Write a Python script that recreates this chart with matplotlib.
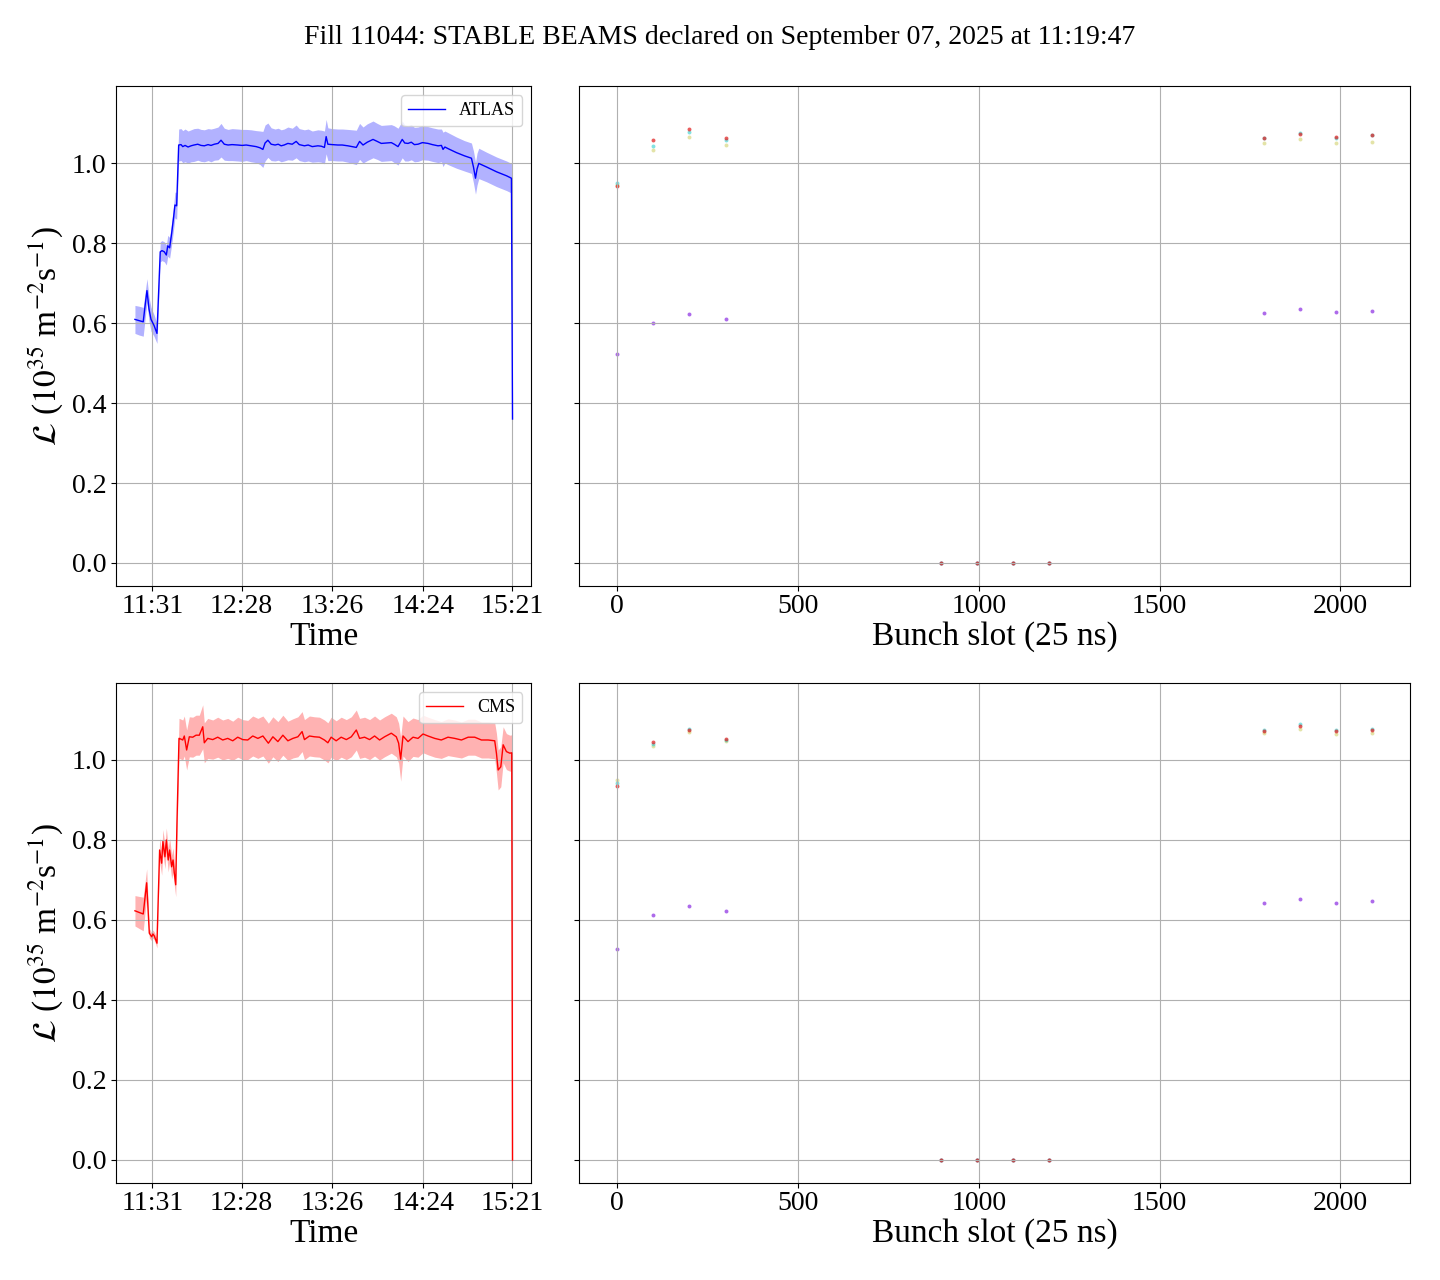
import numpy as np
import matplotlib
matplotlib.use('Agg')
import matplotlib.pyplot as plt

plt.rcParams['font.family'] = ['Liberation Serif', 'DejaVu Serif']
plt.rcParams['mathtext.fontset'] = 'stix'

title = 'Fill 11044: STABLE BEAMS declared on September 07, 2025 at 11:19:47'
sb_time = '11:19:47'

# time axis: minutes after stable beams were declared
tick_labels = ['11:31', '12:28', '13:26', '14:24', '15:21']

atlas_t = [0.0, 2.6, 5.3, 6.4, 7.7, 9.0, 10.3, 12.2, 14.1, 16.2, 17.3, 18.8, 20.1, 21.0, 22.2, 23.5, 24.8, 25.6, 26.7, 28.0,
           29.5, 30.6, 32.1, 34.0, 35.9, 37.8, 40.2, 42.3, 44.4, 46.8, 48.7, 50.8, 53.2, 55.1, 57.2, 59.6, 62.2, 65.8,
           68.6, 71.2, 74.4, 77.6, 80.1, 81.9, 83.3, 85.1, 87.2, 89.7, 91.7, 93.6, 95.5, 97.9, 100.7, 103.2, 105.2,
           108.5, 110.9, 113.5, 117.1, 119.3, 121.3, 122.4, 123.5, 126.3, 129.9, 132.7, 136.3, 139.0, 141.7, 143.8,
           146.0, 148.7, 152.4, 155.1, 157.7, 160.9, 164.1, 166.0, 168.4, 171.1, 172.7, 174.8, 176.9, 178.9, 181.2,
           184.0, 187.6, 190.4, 194.0, 196.2, 197.2, 198.4, 200.4, 205.8, 210.9, 215.4, 216.7, 218.0, 219.0, 220.1,
           225.1, 231.5, 237.9, 241.0, 241.7]
atlas_lumi = [0.609, 0.606, 0.603, 0.640, 0.681, 0.635, 0.609, 0.594, 0.574, 0.778, 0.781, 0.778, 0.770, 0.793, 0.788,
              0.824, 0.866, 0.895, 0.893, 1.045,
              1.046, 1.041, 1.044, 1.040, 1.043, 1.045, 1.047, 1.044, 1.043, 1.046, 1.044, 1.047, 1.049, 1.057, 1.047,
              1.045, 1.046, 1.045, 1.044, 1.045, 1.043, 1.041, 1.038, 1.034, 1.050, 1.057, 1.047, 1.045, 1.047, 1.043,
              1.045, 1.049, 1.047, 1.054, 1.046, 1.043, 1.045, 1.041, 1.043, 1.042, 1.039, 1.066, 1.047, 1.046, 1.045,
              1.045, 1.043, 1.041, 1.039, 1.054, 1.045, 1.052, 1.059, 1.054, 1.049, 1.050, 1.051, 1.047, 1.041, 1.059,
              1.050, 1.049, 1.052, 1.046, 1.047, 1.051, 1.049, 1.046, 1.043, 1.044, 1.034, 1.040, 1.036, 1.026, 1.018,
              1.012, 0.990, 0.962, 0.985, 0.999, 0.990, 0.978, 0.968, 0.962, 0.360]
atlas_err = [0.035, 0.036, 0.036, 0.033, 0.030, 0.030, 0.030, 0.027, 0.025, 0.025, 0.025, 0.025, 0.025, 0.026, 0.026,
             0.028, 0.030, 0.032, 0.034, 0.040,
             0.040, 0.040, 0.041, 0.040, 0.040, 0.041, 0.040, 0.040, 0.040, 0.040, 0.041, 0.040, 0.041, 0.042, 0.040,
             0.039, 0.040, 0.040, 0.040, 0.039, 0.040, 0.040, 0.042, 0.045, 0.045, 0.043, 0.041, 0.040, 0.040, 0.040,
             0.040, 0.041, 0.040, 0.041, 0.040, 0.040, 0.040, 0.039, 0.040, 0.040, 0.041, 0.043, 0.041, 0.040, 0.040,
             0.040, 0.041, 0.042, 0.043, 0.045, 0.045, 0.046, 0.046, 0.045, 0.045, 0.045, 0.045, 0.046, 0.046, 0.046,
             0.045, 0.044, 0.044, 0.043, 0.043, 0.043, 0.042, 0.042, 0.042, 0.041, 0.043, 0.040, 0.040, 0.039, 0.038,
             0.038, 0.040, 0.040, 0.040, 0.038, 0.037, 0.037, 0.037, 0.037, 0.005]

cms_t = [0.0, 2.6, 5.3, 7.5, 9.2, 10.7, 11.5, 12.4, 14.1, 15.8, 17.1, 17.9, 19.2, 20.1, 21.3, 22.2, 23.5, 24.4, 25.2,
         26.1, 26.9, 28.2,
         28.4, 30.6, 31.6, 33.1, 34.8, 37.0, 39.1, 41.2, 43.4, 44.4, 46.6, 49.8, 53.0, 56.2, 59.4, 62.6, 65.8, 69.0,
         72.2, 75.4, 78.7, 81.9, 85.4, 88.3, 91.5, 94.7, 97.9, 101.1, 104.3, 107.0, 108.5, 111.7, 114.9, 118.1,
         121.3, 123.5, 125.6, 128.8, 132.0, 135.3, 138.5, 141.7, 143.8, 147.0, 150.2, 153.4, 156.6, 159.8, 164.1,
         167.3, 168.8, 170.1, 171.6, 174.8, 178.0, 181.2, 184.4, 187.6, 191.9, 196.1, 200.4, 204.7, 209.0, 213.3,
         217.5, 221.8, 226.1, 230.3, 231.4, 232.5, 234.2, 235.7, 237.8, 240.0, 241.2, 241.7]
cms_lumi = [0.623, 0.619, 0.615, 0.693, 0.567, 0.558, 0.565, 0.560, 0.542, 0.775, 0.742, 0.796, 0.758, 0.800, 0.750,
            0.775, 0.733, 0.750, 0.717, 0.688, 0.842, 1.054,
            1.054, 1.050, 1.060, 1.025, 1.058, 1.057, 1.062, 1.062, 1.083, 1.043, 1.054, 1.051, 1.057, 1.050, 1.054,
            1.048, 1.057, 1.051, 1.050, 1.060, 1.054, 1.060, 1.042, 1.058, 1.046, 1.062, 1.048, 1.054, 1.058, 1.071,
            1.051, 1.060, 1.058, 1.057, 1.050, 1.043, 1.057, 1.048, 1.057, 1.051, 1.058, 1.075, 1.054, 1.057, 1.051,
            1.060, 1.050, 1.058, 1.067, 1.058, 1.042, 1.002, 1.060, 1.046, 1.057, 1.054, 1.065, 1.060, 1.054, 1.050,
            1.057, 1.054, 1.050, 1.057, 1.057, 1.050, 1.050, 1.048, 1.017, 0.975, 0.983, 1.038, 1.021, 1.017, 1.018,
            0.000]
cms_err = [0.038, 0.040, 0.042, 0.035, 0.012, 0.010, 0.010, 0.010, 0.012, 0.030, 0.030, 0.030, 0.030, 0.030, 0.030,
           0.030, 0.030, 0.030, 0.030, 0.030, 0.035, 0.050,
           0.050, 0.050, 0.050, 0.050, 0.050, 0.050, 0.050, 0.050, 0.055, 0.050, 0.050, 0.049, 0.050, 0.050, 0.050,
           0.049, 0.050, 0.050, 0.049, 0.050, 0.050, 0.050, 0.050, 0.050, 0.050, 0.050, 0.049, 0.049, 0.050, 0.050,
           0.050, 0.050, 0.050, 0.050, 0.050, 0.050, 0.050, 0.050, 0.050, 0.050, 0.050, 0.050, 0.050, 0.050, 0.050,
           0.050, 0.050, 0.050, 0.050, 0.050, 0.050, 0.055, 0.050, 0.050, 0.048, 0.047, 0.047, 0.047, 0.047, 0.046,
           0.046, 0.046, 0.045, 0.045, 0.045, 0.045, 0.045, 0.045, 0.050, 0.050, 0.050, 0.045, 0.045, 0.045, 0.045,
           0.000]

# per-bunch luminosity at a few snapshots (earliest -> latest)
slots = [0, 100, 200, 300, 895, 995, 1095, 1195, 1788, 1888, 1988, 2088]
atlas_bunch = {
    'purple': [0.522, 0.599, 0.622, 0.609, 0, 0, 0, 0, 0.624, 0.634, 0.627, 0.629],
    'yellow': [0.945, 1.032, 1.064, 1.044, 0, 0, 0, 0, 1.049, 1.059, 1.049, 1.052],
    'cyan': [0.950, 1.042, 1.077, 1.057, 0, 0, 0, 0, 1.062, 1.074, 1.063, 1.069],
    'red': [0.942, 1.057, 1.084, 1.062, 0, 0, 0, 0, 1.062, 1.072, 1.064, 1.069],
}
cms_bunch = {
    'purple': [0.527, 0.612, 0.634, 0.622, 0, 0, 0, 0, 0.642, 0.652, 0.642, 0.647],
    'yellow': [0.950, 1.034, 1.069, 1.047, 0, 0, 0, 0, 1.067, 1.077, 1.064, 1.067],
    'cyan': [0.9425, 1.040, 1.0775, 1.050, 0, 0, 0, 0, 1.075, 1.089, 1.074, 1.077],
    'red': [0.934, 1.044, 1.074, 1.052, 0, 0, 0, 0, 1.072, 1.084, 1.072, 1.074],
}
snap_colors = {'purple': ('#8a2be2', 0.7), 'yellow': ('#c8c850', 0.5),
               'cyan': ('#30d0d0', 0.6), 'red': ('#e01818', 0.7)}


def to_min(s):
    p = [int(v) for v in s.split(':')]
    return p[0] * 60 + p[1] + (p[2] / 60 if len(p) > 2 else 0)


sb = to_min(sb_time)
tick_pos = [to_min(l) - sb for l in tick_labels]

fig, axes = plt.subplots(2, 2, figsize=(14.4, 12.8), dpi=100, sharey='row',
                         gridspec_kw={'width_ratios': [1, 2]})
fig.subplots_adjust(left=0.0806, right=0.9792, top=0.9328, bottom=0.0758, wspace=0.077, hspace=0.194)
fig.suptitle(title, fontsize=20, y=0.971, va='center')

rows = [('ATLAS', 'blue', atlas_t, atlas_lumi, atlas_err, atlas_bunch),
        ('CMS', 'red', cms_t, cms_lumi, cms_err, cms_bunch)]

for i, (name, col, t, lumi, err, bunch) in enumerate(rows):
    ax = axes[i, 0]
    t = np.array(t)
    lumi = np.array(lumi)
    err = np.array(err)
    ax.plot(t, lumi, color=col, lw=1, label=name)
    ax.fill_between(t, lumi - err, lumi + err, color=col, alpha=0.3, lw=0)
    ax.set_xticks(tick_pos)
    ax.set_xticklabels(tick_labels)
    ax.set_xlabel('Time', fontsize=24, labelpad=2)
    ax.set_ylabel(r'$\mathcal{L}$ ($10^{35}$ m$^{-2}$s$^{-1}$)', fontsize=24)
    ax.legend(loc='upper right', fontsize=13)
    ax.grid(True)
    ax.tick_params(labelsize=20)
    ax.tick_params(axis='x', pad=2)

    ax2 = axes[i, 1]
    for key in ['purple', 'yellow', 'cyan', 'red']:
        c, a = snap_colors[key]
        ax2.scatter(slots, bunch[key], s=8, color=c, alpha=a, lw=0)
    ax2.set_xlabel('Bunch slot (25 ns)', fontsize=24, labelpad=2)
    ax2.grid(True)
    ax2.tick_params(labelsize=20)
    ax2.tick_params(axis='x', pad=2)
    ax2.set_xlim(-104.4, 2192.4)

    ax.set_ylim(-0.0575, 1.1925)
    ax.set_yticks([0.0, 0.2, 0.4, 0.6, 0.8, 1.0])

plt.savefig('out.png')
